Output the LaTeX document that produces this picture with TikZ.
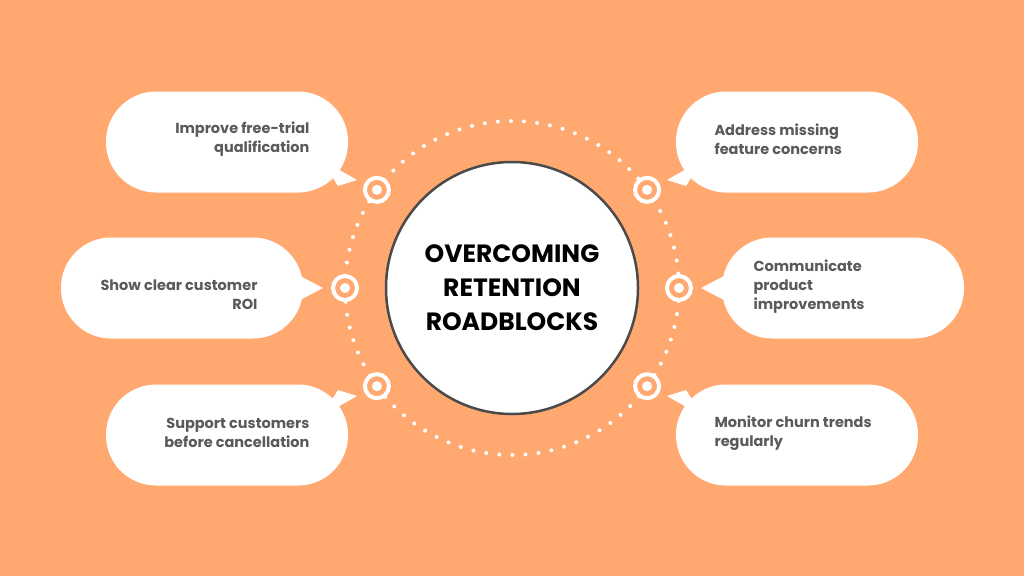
\documentclass[tikz,border=0pt]{standalone}
\usepackage{fontspec}
\setmainfont{Poppins}
\definecolor{bgorange}{HTML}{FFA86F}
\definecolor{txtgray}{HTML}{5A5A5A}
\definecolor{rimgray}{HTML}{4A4A4A}
\tikzset{
  bubble/.style={fill=white, rounded corners=50pt, minimum width=242pt, minimum height=101pt},
  tip/.style={fill=white},
  leftlab/.style={text=txtgray, font=\bfseries\fontsize{14.5}{19}\selectfont, align=right, anchor=east},
  rightlab/.style={text=txtgray, font=\bfseries\fontsize{14.5}{19}\selectfont, align=left, anchor=west},
  marker/.style={circle, fill=bgorange, draw=white, line width=4pt, minimum size=24pt, inner sep=0pt,
    path picture={\fill[white] (path picture bounding box.center) circle (5pt);}}
}
\begin{document}
\begin{tikzpicture}[x=1pt,y=-1pt]
  \useasboundingbox (0,0) rectangle (1024,576);
  \fill[bgorange] (0,0) rectangle (1024,576);
  % Dotted ring and the centre disc
  \coordinate (c) at (512,288);
  \draw[white, line width=4pt, line cap=round, dash pattern=on 0pt off 13.1pt] (c) circle (167);
  \node (hub) [circle, fill=white, draw=rimgray, line width=2.5pt, minimum size=252pt, align=center,
    font=\bfseries\fontsize{25}{34}\selectfont] at (c) {OVERCOMING\\RETENTION\\ROADBLOCKS};
  % Speech bubbles
  \node (b1) [bubble] at (227,142) {};
  \node (b2) [bubble] at (182,288) {};
  \node (b3) [bubble] at (227,435) {};
  \node (b4) [bubble] at (797,142) {};
  \node (b5) [bubble] at (843,288) {};
  \node (b6) [bubble] at (797,435) {};
  \fill[tip] (322,160) -- (357,180) -- (338,186) -- cycle;
  \fill[tip] (300,276) -- (323,288) -- (300,300) -- cycle;
  \fill[tip] (322,416) -- (357,396) -- (338,390) -- cycle;
  \fill[tip] (702,160) -- (667,180) -- (686,186) -- cycle;
  \fill[tip] (724,276) -- (701,288) -- (724,300) -- cycle;
  \fill[tip] (702,416) -- (667,396) -- (686,390) -- cycle;
  \node[leftlab] at (313,139) {Improve free-trial\\qualification};
  \node[leftlab] at (261,295) {Show clear customer\\ROI};
  \node[leftlab] at (313,433) {Support customers\\before cancellation};
  \node[rightlab] at (711,139) {Address missing\\feature concerns};
  \node[rightlab] at (750,287) {Communicate\\product\\improvements};
  \node[rightlab] at (711,433) {Monitor churn trends\\regularly};
  % Markers on the ring
  \foreach \ang/\nm in {144/m1, 180/m2, 216/m3, 36/m4, 0/m5, -36/m6}
    \node (\nm) [marker] at ([shift={(\ang:167)}]c) {};
\end{tikzpicture}
\end{document}
